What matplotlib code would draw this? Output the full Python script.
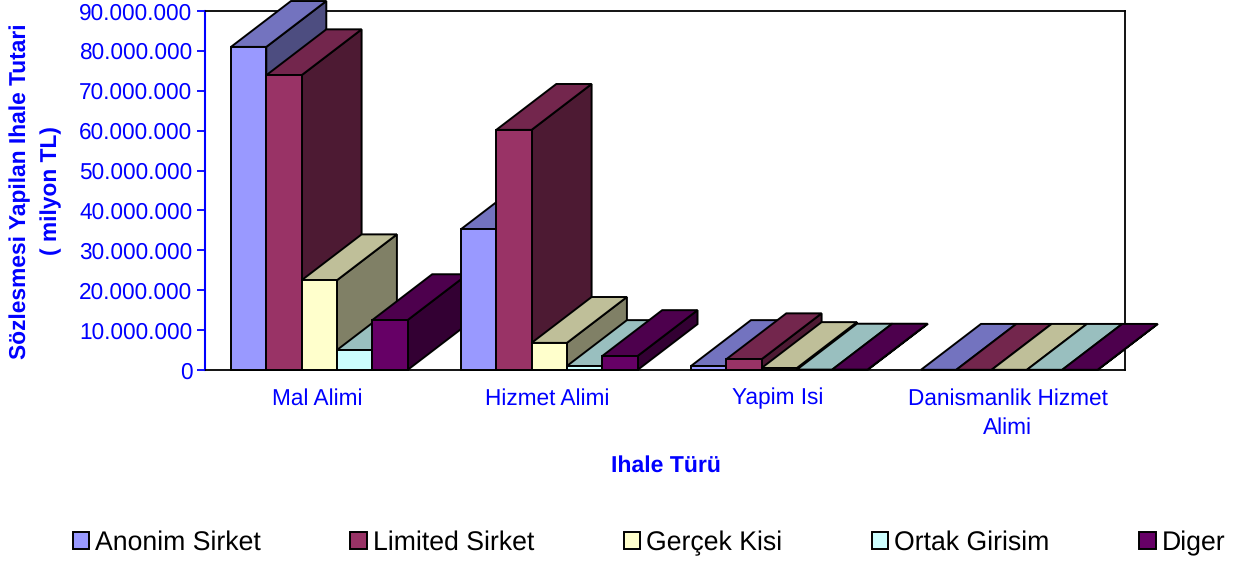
# plot.py - 3B görünümlü ihale türü sütun grafiği
import matplotlib
matplotlib.use('Agg')
import matplotlib.pyplot as plt
from matplotlib.patches import Patch, Polygon
from matplotlib.ticker import FuncFormatter

plt.rcParams['font.family'] = ['Liberation Sans', 'DejaVu Sans']
plt.rcParams['text.hinting'] = 'no_hinting'

categories = ['Mal Alimi', 'Hizmet Alimi', 'Yapim Isi', 'Danismanlik Hizmet\nAlimi']
series_names = ['Anonim Sirket', 'Limited Sirket', 'Gerçek Kisi', 'Ortak Girisim', 'Diger']
anonim = [81000000, 35300000, 1000000, 50000]
limited = [73900000, 60200000, 2700000, 50000]
gercek = [22500000, 6800000, 500000, 50000]
ortak = [5000000, 1000000, 100000, 50000]
diger = [12500000, 3500000, 100000, 50000]
series = [anonim, limited, gercek, ortak, diger]

front_colors = ['#9999FF', '#993366', '#FFFFCC', '#CCFFFF', '#660066']
top_colors = ['#7373BF', '#73264D', '#BFBF99', '#99BFBF', '#4D004D']
side_colors = ['#4D4D80', '#4D1A33', '#808066', '#668080', '#330033']

W, H = 1244, 562
fig = plt.figure(figsize=(W / 100, H / 100), dpi=100)
ax = fig.add_axes([205 / W, (H - 370) / H, 920 / W, 359 / H])
ax.set_xlim(0, 4)
ax.set_ylim(0, 90000000)

bar_w = 0.1535
offset = 0.113
depth_x = 60 / 230
depth_y = 11500000
lw = 1.4

z = 3
for i in range(len(categories)):
    for s, vals in enumerate(series):
        x0 = i + offset + s * bar_w
        x1 = x0 + bar_w
        v = vals[i]
        ax.bar(x0, v, bar_w, align='edge', color=front_colors[s], edgecolor='black',
               linewidth=lw, zorder=z + 2, clip_on=False)
        top = [(x0, v), (x1, v), (x1 + depth_x, v + depth_y), (x0 + depth_x, v + depth_y)]
        side = [(x1, 0), (x1 + depth_x, depth_y), (x1 + depth_x, v + depth_y), (x1, v)]
        ax.add_patch(Polygon(side, closed=True, facecolor=side_colors[s], edgecolor='black',
                             linewidth=lw, zorder=z, clip_on=False))
        ax.add_patch(Polygon(top, closed=True, facecolor=top_colors[s], edgecolor='black',
                             linewidth=lw, zorder=z + 1, clip_on=False))
        z += 3

for side_name in ['top', 'right', 'bottom']:
    ax.spines[side_name].set_color('black')
    ax.spines[side_name].set_linewidth(1.3)
    ax.spines[side_name].set_zorder(1)
ax.spines['left'].set_color('#0000FF')
ax.spines['left'].set_linewidth(1.5)
ax.spines['left'].set_zorder(1)

ax.set_yticks(range(0, 90000001, 10000000))
ax.yaxis.set_major_formatter(FuncFormatter(lambda v, p: f'{int(v):,}'.replace(',', '.')))
ax.tick_params(axis='y', colors='#0000FF', length=6, width=1.3, labelsize=16.3, pad=3)
ax.set_xticks([i + 0.49 for i in range(len(categories))])
ax.set_xticklabels(categories, fontsize=16.3, color='#0000FF', linespacing=1.45)
ax.tick_params(axis='x', length=0, pad=13)

fig.text(665.5 / W, 1 - 466 / H, 'Ihale Türü', color='#0000FF', fontsize=16.6,
         fontweight='bold', ha='center', va='center')
fig.text(36 / W, 1 - 191 / H, 'Sözlesmesi Yapilan Ihale Tutari\n( milyon TL)', color='#0000FF',
         fontsize=16.4, fontweight='bold', ha='center', va='center', rotation=90, linespacing=1.55)

handles = [Patch(facecolor=c, edgecolor='black', linewidth=lw) for c in front_colors]
fig.legend(handles, series_names, ncol=5, loc='center', bbox_to_anchor=(649 / W, 1 - 543 / H),
           frameon=False, fontsize=19.2, handlelength=0.62, handleheight=0.62,
           handletextpad=0.22, columnspacing=3.36, borderpad=0, borderaxespad=0)

plt.savefig('out.png', dpi=100)
plt.close()
